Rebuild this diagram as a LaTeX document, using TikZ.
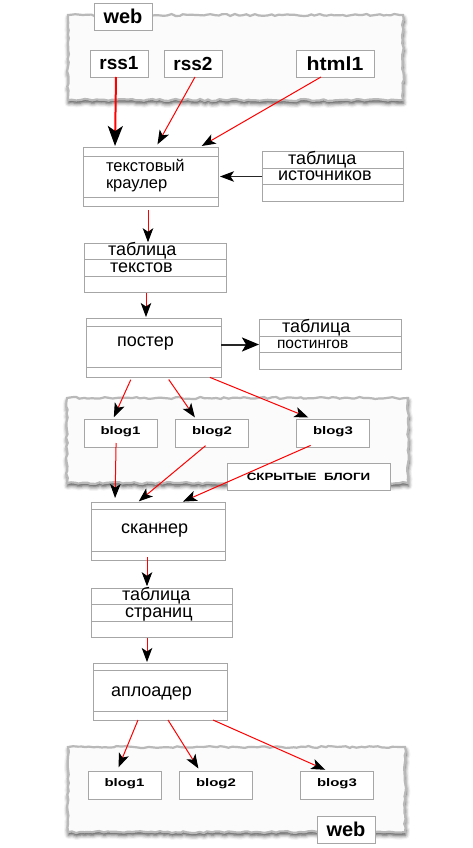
\documentclass[tikz,border=0pt]{standalone}
\usepackage{fontspec}
\setmainfont{Liberation Sans}
\usetikzlibrary{positioning, arrows.meta, shadows.blur, decorations.pathmorphing, backgrounds}

\newcommand{\blogfont}{\bfseries\fontsize{11}{12}\selectfont}
\newcommand{\tblfont}{\fontsize{18}{20}\selectfont}
\newcommand{\widen}[1]{\scalebox{1.36}[1]{#1}}

\begin{document}
\begin{tikzpicture}[
  x=1pt, y=-1pt,
  every node/.style={outer sep=0pt},
  webcloud/.style={rectangle, draw=gray!55, line width=2.2pt, fill=gray!3, decorate, decoration={random steps, segment length=4pt, amplitude=1pt}, blur shadow={shadow xshift=0.5pt, shadow yshift=-3pt, shadow blur radius=4pt, shadow opacity=75}},
  tagbox/.style={rectangle, draw=gray!70, fill=white, line width=0.9pt, inner sep=0pt, minimum width=58pt, minimum height=27pt, font=\bfseries\fontsize{20}{22}\selectfont},
  srcbox/.style={tagbox, font=\bfseries\fontsize{19}{21}\selectfont},
  blogbox/.style={rectangle, draw=gray!70, fill=white, line width=0.8pt, inner sep=0pt, minimum width=73pt, minimum height=28pt, text depth=4.5pt, font=\blogfont},
  procbox/.style 2 args={rectangle, draw=gray!70, fill=white, line width=0.8pt, inner sep=0pt, minimum width=135pt,
    path picture={
      \draw[gray!70, line width=0.8pt] ([yshift=-#1]path picture bounding box.north west) -- ([yshift=-#1]path picture bounding box.north east);
      \draw[gray!70, line width=0.8pt] ([yshift=#2]path picture bounding box.south west) -- ([yshift=#2]path picture bounding box.south east);
    }},
  proctext/.style={inner sep=0pt, anchor=west, align=left, font=\tblfont},
  tblrow/.style={rectangle, draw=gray!70, fill=white, line width=0.9pt, inner xsep=0pt, inner ysep=0pt, text width=141pt, minimum height=16.5pt, text height=11pt, text depth=3pt, align=left, font=\tblfont},
  feed/.style={red, line width=1pt, shorten >=1pt, -{Stealth[color=black, length=14pt, width=10.5pt, inset=3.5pt]}},
  link/.style={black!85, line width=1pt, -{Stealth[color=black, length=14pt, width=10.5pt, inset=3.5pt]}}
]
\useasboundingbox (0,0) rectangle (472,848);
\pgfmathsetseed{7}

% Clouds
\node[webcloud, minimum width=335pt, minimum height=85pt] (cloudTop) at (235.5,57.5) {};
\node[webcloud, minimum width=341pt, minimum height=85pt] (cloudMid) at (237.5,440.5) {};
\node[webcloud, minimum width=337pt, minimum height=85pt] (cloudBot) at (236.5,789.5) {};

% Sources
\node[tagbox] (webTop) at (123,16.5) {web};
\node[srcbox] (rss1) at (119,63.5) {rss1};
\node[srcbox] (rss2) at (193,63.5) {rss2};
\node[srcbox, minimum width=78pt] (html1) at (335,63.5) {\scalebox{1.12}[1]{html1}};

% Crawler
\node[procbox={9pt}{9pt}, minimum height=59pt] (crawler) at (150.5,176.5) {};
\node[proctext, font=\fontsize{16.5}{17.6}\selectfont] (crawlerText) at ([xshift=23pt, yshift=1pt]crawler.west) {текстовый\\краулер};

\node[tblrow] (tblSrcA) at (332.5,160) {\hspace*{26pt}таблица};
\node[tblrow, below=0pt of tblSrcA] (tblSrcB) {\hspace*{16pt}источников};
\node[tblrow, below=0pt of tblSrcB] (tblSrcC) {};

\node[tblrow, text width=142pt] (tblTextA) at (155,251.5) {\hspace*{24pt}таблица};
\node[tblrow, text width=142pt, below=0pt of tblTextA] (tblTextB) {\hspace*{26pt}текстов};
\node[tblrow, text width=142pt, below=0pt of tblTextB] (tblTextC) {};

% Poster
\node[procbox={8pt}{10pt}, minimum height=59pt] (poster) at (153.5,347.5) {};
\node[proctext] (posterText) at ([xshift=31pt, yshift=3.5pt]poster.west) {постер};

\node[tblrow, text width=142pt] (tblPostA) at (330,328) {\hspace*{23pt}таблица};
\node[tblrow, text width=142pt, below=0pt of tblPostA, font=\fontsize{15.5}{17}\selectfont] (tblPostB) {\hspace*{18pt}постингов};
\node[tblrow, text width=142pt, below=0pt of tblPostB] (tblPostC) {};

% Hidden blogs
\node[blogbox] (blogM1) at (120.5,433) {\widen{blog1}};
\node[blogbox] (blogM2) at (212,433) {\widen{blog2}};
\node[blogbox] (blogM3) at (333,433) {\widen{blog3}};
\node[blogbox, minimum width=163pt, minimum height=27pt, text depth=0pt, font=\bfseries\fontsize{10.5}{12}\selectfont] (hidden) at (308.5,476.5) {\scalebox{1.27}[1]{СКРЫТЫЕ\hspace{3pt} БЛОГИ}};

% Scanner
\node[procbox={7pt}{9pt}, minimum width=134pt, minimum height=58pt] (scanner) at (158,531) {};
\node[proctext] (scannerText) at ([xshift=30pt]scanner.west) {сканнер};

\node[tblrow] (tblPageA) at (161.5,596.5) {\hspace*{31pt}таблица};
\node[tblrow, below=0pt of tblPageA] (tblPageB) {\hspace*{34pt}страниц};
\node[tblrow, below=0pt of tblPageB] (tblPageC) {};

% Uploader
\node[procbox={7pt}{9pt}, minimum width=134pt, minimum height=57pt] (uploader) at (160,691.5) {};
\node[proctext] (uploaderText) at ([xshift=18pt, yshift=-2.5pt]uploader.west) {аплоадер};

% Target blogs
\node[blogbox] (blogB1) at (124.5,785) {\widen{blog1}};
\node[blogbox] (blogB2) at (216,785) {\widen{blog2}};
\node[blogbox] (blogB3) at (337,785) {\widen{blog3}};
\node[tagbox] (webBot) at (346,829.5) {web};

% Routing into crawler
\draw[feed, line width=2pt, -{Stealth[color=black, length=20pt, width=15pt, inset=5pt]}] ([xshift=-3pt]rss1.south) -- ([xshift=-35.5pt]crawler.north);
\draw[feed, shorten >=3pt] ([xshift=2pt]rss2.south) -- ([xshift=5.5pt]crawler.north);
\draw[feed, shorten >=2pt] ([xshift=-14pt]html1.south) -- ([xshift=49.5pt]crawler.north);
\draw[link, shorten >=2pt] (tblSrcB.west) -- (tblSrcB.west -| crawler.east);

% Crawler to poster
\draw[feed, shorten <=4pt] ([xshift=-2.5pt]crawler.south) -- ([xshift=-7pt]tblTextA.north);
\draw[feed] ([xshift=-9pt]tblTextC.south) -- ([xshift=-7.5pt]poster.north);
\draw[link, line width=2pt, -{Stealth[color=black, length=17pt, width=14pt, inset=4pt]}] (poster.east |- tblPostB.west) -- (tblPostB.west);

% Poster to hidden blogs
\draw[feed, shorten <=3pt, shorten >=2pt] ([xshift=-21.5pt]poster.south) -- ([xshift=-7.5pt]blogM1.north);
\draw[feed, shorten <=3pt, shorten >=2pt] ([xshift=13.5pt]poster.south) -- ([xshift=-16pt]blogM2.north);
\draw[feed, shorten <=1pt, shorten >=4pt] ([xshift=55.5pt]poster.south) -- ([xshift=-21pt]blogM3.north);

% Hidden blogs to scanner
\draw[feed, shorten <=-4pt, shorten >=4pt] ([xshift=-4.5pt]blogM1.south) -- ([xshift=-43pt]scanner.north);
\draw[feed, shorten <=-2pt, shorten >=1pt] ([xshift=-8pt]blogM2.south) -- ([xshift=-20pt]scanner.north);
\draw[feed, shorten <=-4pt, shorten >=1pt] ([xshift=-26pt]blogM3.south) -- ([xshift=24pt]scanner.north);

% Scanner to uploader
\draw[feed, shorten <=-3pt, shorten >=2pt] ([xshift=-11pt]scanner.south) -- ([xshift=-14.5pt]tblPageA.north);
\draw[feed] ([xshift=-14.5pt]tblPageC.south) -- ([xshift=-13pt]uploader.north);

% Uploader to blogs
\draw[feed, shorten >=4pt] ([xshift=-22pt]uploader.south) -- ([xshift=-7.5pt]blogB1.north);
\draw[feed, shorten >=3pt] ([xshift=8pt]uploader.south) -- ([xshift=-16pt]blogB2.north);
\draw[feed, shorten >=3pt] ([xshift=53pt]uploader.south) -- ([xshift=-9pt]blogB3.north);

\end{tikzpicture}
\end{document}
